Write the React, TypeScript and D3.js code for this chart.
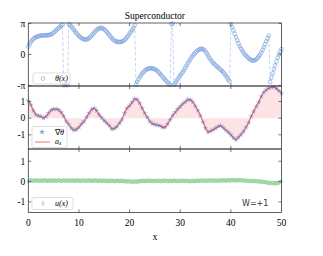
import { useEffect, useRef } from "react";
import * as d3 from "d3";

const title = "Superconductor";
const xTicks = [0, 10, 20, 30, 40, 50];
const thetaTicks = [-Math.PI, 0, Math.PI];
const thetaTickLabels = ["-π", "0", "π"];
const unitTicks = [-1, 0, 1];

// theta(x), sampled every 0.25 from x = 0 to 50 (wrapped phase)
const thetaStep = 0.25;
const theta = [
  0.8, 1.05, 1.28, 1.45, 1.58, 1.68, 1.76, 1.82, 1.86, 1.89, 1.92, 1.94, 1.94, 1.94, 1.95, 1.96, 1.97, 2.0, 2.04, 2.12,
  2.22, 2.33, 2.45, 2.58, 2.7, 2.82, 2.93, 3.03, -3.13, -3.09, -3.08, -3.11, 3.1, 2.98, 2.84, 2.68, 2.5, 2.33, 2.17, 2.02,
  1.88, 1.77, 1.67, 1.59, 1.54, 1.52, 1.53, 1.58, 1.66, 1.78, 1.92, 2.07, 2.22, 2.36, 2.49, 2.59, 2.66, 2.7, 2.7, 2.64,
  2.55, 2.44, 2.3, 2.14, 1.98, 1.82, 1.66, 1.52, 1.41, 1.34, 1.3, 1.28, 1.27, 1.28, 1.31, 1.38, 1.48, 1.61, 1.76, 1.93,
  2.12, 2.28, 2.48, 2.7, 2.95, -3.06, -2.78, -2.52, -2.3, -2.1, -1.93, -1.78, -1.65, -1.55, -1.48, -1.43, -1.4, -1.39, -1.41, -1.45,
  -1.5, -1.58, -1.68, -1.82, -1.96, -2.1, -2.25, -2.4, -2.55, -2.7, -2.83, -2.96, -3.08, 3.12, 3.11, -3.06, -2.92, -2.74, -2.52, -2.32,
  -2.13, -1.96, -1.78, -1.58, -1.35, -1.12, -0.9, -0.68, -0.47, -0.28, -0.1, 0.06, 0.2, 0.32, 0.43, 0.51, 0.56, 0.58, 0.54, 0.45,
  0.3, 0.1, -0.12, -0.33, -0.52, -0.7, -0.85, -0.98, -1.1, -1.22, -1.33, -1.44, -1.55, -1.67, -1.81, -1.97, -2.14, -2.33, -2.55, -2.72,
  3.08, 2.78, 2.45, 2.1, 1.76, 1.43, 1.12, 0.84, 0.6, 0.38, 0.19, 0.02, -0.13, -0.26, -0.38, -0.48, -0.56, -0.61, -0.62, -0.58,
  -0.5, -0.38, -0.22, -0.03, 0.2, 0.46, 0.74, 1.04, 1.34, 1.64, 1.92, -2.78, -2.35, -1.92, -1.5, -1.1, -0.72, -0.33, 0.02, 0.3,
  0.55,
];

// grad theta and a_x, sampled every 0.5
const gradStep = 0.5;
const gradTheta = [
  1.05, 0.8, 0.45, 0.22, 0.14, 0.1, 0.0, 0.1, 0.3, 0.48,
  0.55, 0.55, 0.5, 0.35, 0.12, -0.2, -0.38, -0.6, -0.72, -0.68,
  -0.55, -0.35, -0.2, 0.05, 0.3, 0.52, 0.6, 0.45, 0.2, 0.02,
  -0.15, -0.3, -0.45, -0.65, -0.62, -0.52, -0.3, -0.08, 0.3, 0.6,
  0.75, 0.95, 1.16, 1.12, 0.9, 0.6, 0.3, 0.05, -0.2, -0.34,
  -0.38, -0.42, -0.45, -0.55, -0.55, -0.35, -0.1, 0.16, 0.35, 0.55,
  0.7, 0.86, 0.98, 1.12, 1.1, 0.96, 0.72, 0.46, 0.15, -0.24,
  -0.6, -0.84, -0.78, -0.7, -0.6, -0.5, -0.45, -0.58, -0.72, -0.85,
  -1.0, -1.18, -1.3, -1.15, -0.98, -0.8, -0.55, -0.28, 0.1, 0.4,
  0.7, 0.95, 1.3, 1.55, 1.7, 1.8, 1.86, 1.88, 1.78, 1.65,
  1.5,
];
const aX = gradTheta;

// u(x), sampled every 0.25
const uStep = 0.25;
const uValues = [
  0.02, 0.05, 0.04, 0.06, 0.03, 0.05, 0.07, 0.04, 0.05, 0.03, 0.06, 0.04, 0.05, 0.07, 0.04, 0.03, 0.05, 0.06, 0.04, 0.05,
  0.03, 0.06, 0.04, 0.05, 0.07, 0.04, 0.03, 0.05, 0.06, 0.04, 0.05, 0.03, 0.06, 0.05, 0.04, 0.06, 0.03, 0.05, 0.04, 0.06,
  0.05, 0.03, 0.04, 0.06, 0.04, 0.05, 0.03, 0.05, 0.06, 0.04, 0.03, 0.05, 0.04, 0.06, 0.05, 0.03, 0.04, 0.05, 0.03, 0.04,
  0.05, 0.03, 0.04, 0.02, 0.04, 0.05, 0.03, 0.04, 0.02, 0.03, 0.05, 0.03, 0.02, 0.04, 0.03, 0.01, 0.03, 0.02, 0.0, 0.02,
  0.01, -0.01, 0.0, -0.02, 0.01, 0.0, -0.01, 0.02, 0.01, 0.03, 0.02, 0.04, 0.03, 0.02, 0.04, 0.05, 0.03, 0.04, 0.02, 0.03,
  0.04, 0.02, 0.03, 0.05, 0.03, 0.02, 0.04, 0.03, 0.05, 0.04, 0.02, 0.03, 0.04, 0.02, 0.03, 0.05, 0.03, 0.04, 0.02, 0.03,
  0.04, 0.03, 0.05, 0.03, 0.02, 0.04, 0.03, 0.01, 0.03, 0.02, 0.04, 0.03, 0.02, 0.04, 0.05, 0.03, 0.04, 0.06, 0.04, 0.05,
  0.03, 0.05, 0.04, 0.06, 0.05, 0.04, 0.06, 0.05, 0.03, 0.05, 0.04, 0.06, 0.05, 0.07, 0.05, 0.06, 0.04, 0.06, 0.07, 0.05,
  0.06, 0.08, 0.06, 0.07, 0.05, 0.07, 0.08, 0.06, 0.07, 0.05, 0.06, 0.04, 0.05, 0.03, 0.04, 0.02, 0.03, 0.04, 0.02, 0.03,
  0.01, 0.02, 0.0, 0.01, -0.01, 0.0, -0.03, -0.02, -0.04, -0.06, -0.05, -0.07, -0.08, -0.06, -0.09, -0.08, -0.07, -0.08, -0.05, -0.03,
  0.02,
];

const serif = "Liberation Serif";
const sans = "DejaVu Sans";

export default function App() {
  const svgRef = useRef<SVGSVGElement>(null);

  useEffect(() => {
    document.body.style.margin = "0";
    const width = 323;
    const height = 256;
    const svg = d3.select(svgRef.current);
    svg.selectAll("*").remove();
    svg.attr("width", width).attr("height", height);

    const left = 28.3;
    const right = 281.5;
    const x = d3.scaleLinear().domain([0, 50]).range([left, right]);

    const panels = [
      { top: 23, bottom: 86, domain: [-3.2, 3.2], ticks: thetaTicks, labels: thetaTickLabels },
      { top: 86, bottom: 149, domain: [-1.85, 1.93], ticks: unitTicks, labels: ["-1", "0", "1"] },
      { top: 149, bottom: 212.5, domain: [-1.52, 1.6], ticks: unitTicks, labels: ["-1", "0", "1"] },
    ];
    const ys = panels.map((p) =>
      d3.scaleLinear().domain(p.domain).range([p.bottom, p.top])
    );

    // title
    svg
      .append("text")
      .attr("x", (left + right) / 2)
      .attr("y", 18.5)
      .attr("text-anchor", "middle")
      .attr("font-family", serif)
      .attr("font-size", 9.5)
      .text(title);

    // ---- panel 1: theta(x)
    const y1 = ys[0];
    const thetaPts = theta.map((v, i) => [i * thetaStep, v] as [number, number]);
    svg
      .append("path")
      .attr(
        "d",
        d3
          .line<[number, number]>()
          .x((d) => x(d[0]))
          .y((d) => y1(d[1]))(thetaPts)
      )
      .attr("fill", "none")
      .attr("stroke", "#b3cbee")
      .attr("stroke-width", 0.8)
      .attr("stroke-dasharray", "3.5,2");
    svg
      .append("g")
      .selectAll("circle")
      .data(thetaPts)
      .join("circle")
      .attr("cx", (d) => x(d[0]))
      .attr("cy", (d) => y1(d[1]))
      .attr("r", 1.9)
      .attr("fill", "none")
      .attr("stroke", "#77a0dc")
      .attr("stroke-width", 0.65);

    // ---- panel 2: grad theta and a_x
    const y2 = ys[1];
    const axPts = aX.map((v, i) => [i * gradStep, v] as [number, number]);
    svg
      .append("path")
      .attr(
        "d",
        d3
          .area<[number, number]>()
          .x((d) => x(d[0]))
          .y0(y2(0))
          .y1((d) => y2(d[1]))(axPts)
      )
      .attr("fill", "#fde3e3");
    const star = d3.symbol().type(d3.symbolStar).size(11);
    svg
      .append("g")
      .selectAll("path")
      .data(gradTheta)
      .join("path")
      .attr("d", star)
      .attr("transform", (d, i) => `translate(${x(i * gradStep)},${y2(d)})`)
      .attr("fill", "#7aa6e4")
      .attr("opacity", 0.75);
    svg
      .append("path")
      .attr(
        "d",
        d3
          .line<[number, number]>()
          .x((d) => x(d[0]))
          .y((d) => y2(d[1]))(axPts)
      )
      .attr("fill", "none")
      .attr("stroke", "#d9475a")
      .attr("stroke-width", 1.1)
      .attr("opacity", 0.9);

    // ---- panel 3: u(x)
    const y3 = ys[2];
    const diamond = d3.symbol().type(d3.symbolDiamond).size(5);
    svg
      .append("g")
      .selectAll("path")
      .data(uValues)
      .join("path")
      .attr("d", diamond)
      .attr("transform", (d, i) => `translate(${x(i * uStep)},${y3(d)})`)
      .attr("fill", "none")
      .attr("stroke", "#66c074")
      .attr("stroke-width", 0.55);

    // ---- frames, ticks, labels
    panels.forEach((p, k) => {
      const y = ys[k];
      const g = svg.append("g");
      g.append("rect")
        .attr("x", left)
        .attr("y", p.top)
        .attr("width", right - left)
        .attr("height", p.bottom - p.top)
        .attr("fill", "none")
        .attr("stroke", "#3a3a3a")
        .attr("stroke-width", 0.8);
      xTicks.slice(1, -1).forEach((t) => {
        g.append("line")
          .attr("x1", x(t)).attr("x2", x(t))
          .attr("y1", p.bottom).attr("y2", p.bottom - 3)
          .attr("stroke", "#3a3a3a").attr("stroke-width", 0.7);
        g.append("line")
          .attr("x1", x(t)).attr("x2", x(t))
          .attr("y1", p.top).attr("y2", p.top + 3)
          .attr("stroke", "#3a3a3a").attr("stroke-width", 0.7);
      });
      p.ticks.forEach((t, i) => {
        g.append("line")
          .attr("x1", left).attr("x2", left + 3)
          .attr("y1", y(t)).attr("y2", y(t))
          .attr("stroke", "#3a3a3a").attr("stroke-width", 0.7);
        g.append("line")
          .attr("x1", right).attr("x2", right - 3)
          .attr("y1", y(t)).attr("y2", y(t))
          .attr("stroke", "#3a3a3a").attr("stroke-width", 0.7);
        g.append("text")
          .attr("x", left - 3)
          .attr("y", y(t))
          .attr("dy", "0.35em")
          .attr("text-anchor", "end")
          .attr("font-family", serif)
          .attr("font-size", 9.5)
          .text(p.labels[i]);
      });
    });

    // x tick labels and axis label
    xTicks.forEach((t) => {
      svg
        .append("text")
        .attr("x", x(t))
        .attr("y", 226)
        .attr("text-anchor", "middle")
        .attr("font-family", serif)
        .attr("font-size", 9.5)
        .text(t);
    });
    svg
      .append("text")
      .attr("x", (left + right) / 2)
      .attr("y", 240)
      .attr("text-anchor", "middle")
      .attr("font-family", serif)
      .attr("font-size", 10)
      .text("x");

    // ---- legends
    const legendBox = (bx: number, by: number, bw: number, bh: number) =>
      svg
        .append("rect")
        .attr("x", bx)
        .attr("y", by)
        .attr("width", bw)
        .attr("height", bh)
        .attr("rx", 1.5)
        .attr("fill", "white")
        .attr("fill-opacity", 0.85)
        .attr("stroke", "#d0d0d0")
        .attr("stroke-width", 0.7);

    legendBox(33, 73, 37, 11);
    svg.append("circle").attr("cx", 43).attr("cy", 78.5).attr("r", 1.9)
      .attr("fill", "none").attr("stroke", "#77a0dc").attr("stroke-width", 0.65);
    svg.append("text").attr("x", 55).attr("y", 78.5).attr("dy", "0.35em")
      .attr("font-family", serif).attr("font-size", 8).attr("font-style", "italic")
      .text("θ(x)");

    legendBox(32, 126.5, 35, 21);
    svg.append("path").attr("d", star).attr("transform", "translate(42,132)")
      .attr("fill", "#7aa6e4");
    const gradLabel = svg.append("text").attr("x", 55).attr("y", 132).attr("dy", "0.35em")
      .attr("font-family", serif).attr("font-size", 8);
    gradLabel.append("tspan").text("∇");
    gradLabel.append("tspan").attr("font-style", "italic").text("θ");
    svg.append("line").attr("x1", 35).attr("x2", 50).attr("y1", 142).attr("y2", 142)
      .attr("stroke", "#f08a8a").attr("stroke-width", 1.2);
    const axLabel = svg.append("text").attr("x", 55).attr("y", 142).attr("dy", "0.2em")
      .attr("font-family", serif).attr("font-size", 8).attr("font-style", "italic");
    axLabel.append("tspan").text("a");
    axLabel.append("tspan").attr("font-size", 5.5).attr("dy", "0.25em").text("x");

    legendBox(32, 197.5, 41, 12);
    svg.append("path").attr("d", diamond).attr("transform", "translate(43,203.5)")
      .attr("fill", "none").attr("stroke", "#66c074").attr("stroke-width", 0.55);
    svg.append("text").attr("x", 55).attr("y", 203.5).attr("dy", "0.35em")
      .attr("font-family", serif).attr("font-size", 8).attr("font-style", "italic")
      .text("u(x)");

    svg.append("text").attr("x", 242).attr("y", 203.5).attr("dy", "0.35em")
      .attr("font-family", sans).attr("font-size", 8).attr("fill", "#333")
      .text("W=+1");
  }, []);

  return <svg ref={svgRef} style={{ display: "block" }} />;
}
